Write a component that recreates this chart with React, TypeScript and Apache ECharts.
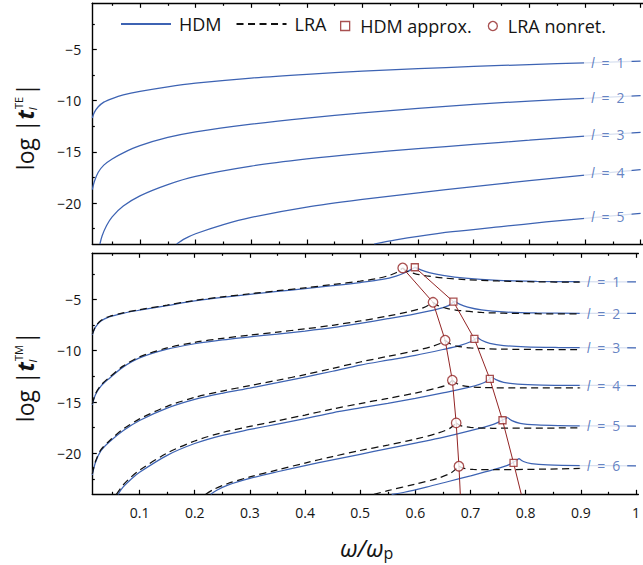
import React, { useEffect, useRef } from 'react';
import * as echarts from 'echarts';

// ---------- axis ticks ----------
const xMajorTicks = [0.1, 0.2, 0.3, 0.4, 0.5, 0.6, 0.7, 0.8, 0.9, 1.0];
const xMinorTicks = [0.05, 0.15, 0.25, 0.35, 0.45, 0.55, 0.65, 0.75, 0.85, 0.95];
const yMajorTicks = [-5, -10, -15, -20];
const yMinorTicks = [-2.5, -7.5, -12.5, -17.5, -22.5];
const modeNumbers = [1, 2, 3, 4, 5, 6];

// ---------- TE panel (HDM) ----------
const teHdm1 = [[0.0143, -11.7], [0.018, -11.15], [0.025, -10.6], [0.035, -10.15], [0.05, -9.8], [0.07, -9.45], [0.1, -9.1], [0.15, -8.65], [0.2, -8.3], [0.3, -7.8], [0.4, -7.43], [0.5, -7.12], [0.6, -6.88], [0.7, -6.67], [0.8, -6.48], [0.9, -6.32], [1.0, -6.15]];
const teHdm2 = [[0.0143, -18.7], [0.018, -17.9], [0.025, -17.0], [0.035, -16.3], [0.05, -15.7], [0.07, -15.1], [0.1, -14.4], [0.15, -13.6], [0.2, -13.05], [0.3, -12.3], [0.4, -11.7], [0.5, -11.2], [0.6, -10.75], [0.7, -10.37], [0.8, -10.05], [0.9, -9.78], [1.0, -9.52]];
const teHdm3 = [[0.028, -24], [0.032, -23.2], [0.04, -22.2], [0.05, -21.35], [0.07, -20.3], [0.1, -19.3], [0.15, -18.2], [0.2, -17.4], [0.3, -16.4], [0.4, -15.7], [0.5, -15.15], [0.6, -14.7], [0.7, -14.27], [0.8, -13.87], [0.9, -13.46], [1.0, -13.1]];
const teHdm4 = [[0.166, -24], [0.18, -23.5], [0.2, -23.0], [0.25, -22.1], [0.3, -21.4], [0.4, -20.4], [0.5, -19.65], [0.6, -19.0], [0.7, -18.4], [0.8, -17.82], [0.9, -17.27], [1.0, -16.75]];
const teHdm5 = [[0.521, -24], [0.56, -23.6], [0.6, -23.25], [0.662, -22.8], [0.75, -22.3], [0.83, -21.85], [0.9, -21.5], [1.0, -21.0]];

// ---------- TM panel (HDM): rise to the resonance, then fall ----------
const tmHdm1Rise = [[0.0143, -8.46], [0.02, -7.7], [0.03, -7.1], [0.045, -6.7], [0.07, -6.35], [0.1, -6.05], [0.15, -5.6], [0.2, -5.15], [0.25, -4.8], [0.3, -4.5], [0.35, -4.22], [0.4, -3.95], [0.45, -3.66], [0.5, -3.35], [0.54, -3.05], [0.565, -2.72], [0.585, -2.3], [0.6, -1.85]];
const tmHdm1Fall = [[0.6, -1.85], [0.61, -2.12], [0.625, -2.38], [0.65, -2.65], [0.69, -2.92], [0.75, -3.13], [0.82, -3.23], [0.9, -3.27], [1.0, -3.29]];
const tmHdm2Rise = [[0.0143, -15.28], [0.02, -14.3], [0.03, -13.45], [0.045, -12.7], [0.07, -11.6], [0.1, -10.7], [0.15, -9.85], [0.2, -9.32], [0.25, -8.95], [0.3, -8.65], [0.35, -8.37], [0.4, -8.08], [0.45, -7.75], [0.5, -7.33], [0.55, -6.88], [0.6, -6.4], [0.64, -5.95], [0.66, -5.6], [0.671, -5.15]];
const tmHdm2Fall = [[0.671, -5.15], [0.68, -5.45], [0.695, -5.75], [0.72, -6.02], [0.76, -6.22], [0.82, -6.32], [0.9, -6.35], [1.0, -6.37]];
const tmHdm3Rise = [[0.0143, -22.1], [0.02, -20.9], [0.03, -19.75], [0.045, -18.9], [0.07, -17.8], [0.1, -16.8], [0.15, -15.6], [0.2, -14.75], [0.25, -14.15], [0.3, -13.65], [0.35, -13.12], [0.4, -12.57], [0.45, -12.0], [0.5, -11.4], [0.55, -10.92], [0.6, -10.45], [0.65, -9.88], [0.68, -9.5], [0.7, -9.12], [0.713, -8.72]];
const tmHdm3Fall = [[0.713, -8.72], [0.72, -8.98], [0.735, -9.28], [0.76, -9.5], [0.8, -9.63], [0.86, -9.69], [0.9, -9.7], [1.0, -9.72]];
const tmHdm4Rise = [[0.061, -24], [0.07, -23.3], [0.085, -22.5], [0.1, -21.85], [0.15, -20.2], [0.2, -19.05], [0.25, -18.25], [0.3, -17.68], [0.35, -17.15], [0.4, -16.62], [0.45, -16.05], [0.5, -15.58], [0.55, -15.13], [0.6, -14.65], [0.65, -14.12], [0.7, -13.53], [0.725, -13.1], [0.739, -12.55]];
const tmHdm4Fall = [[0.739, -12.55], [0.746, -12.82], [0.76, -13.08], [0.785, -13.26], [0.83, -13.35], [0.9, -13.38], [1.0, -13.4]];
const tmHdm5Rise = [[0.229, -24], [0.24, -23.6], [0.26, -23.1], [0.3, -22.45], [0.35, -21.8], [0.4, -21.2], [0.45, -20.65], [0.5, -20.1], [0.55, -19.55], [0.6, -19.0], [0.65, -18.45], [0.7, -17.8], [0.74, -17.2], [0.755, -16.85], [0.767, -16.5]];
const tmHdm5Fall = [[0.767, -16.5], [0.775, -16.82], [0.79, -17.08], [0.82, -17.24], [0.86, -17.31], [0.9, -17.33], [1.0, -17.35]];
const tmHdm6Rise = [[0.557, -24], [0.58, -23.8], [0.62, -23.3], [0.66, -22.75], [0.7, -22.2], [0.74, -21.62], [0.77, -21.1], [0.788, -20.5]];
const tmHdm6Fall = [[0.788, -20.5], [0.796, -20.8], [0.81, -21.0], [0.84, -21.13], [0.9, -21.2], [1.0, -21.22]];

// ---------- TM panel (LRA): rise to the resonance, then fall ----------
const tmLra1Rise = [[0.0143, -8.4], [0.02, -7.65], [0.03, -7.05], [0.045, -6.66], [0.07, -6.31], [0.1, -6.0], [0.15, -5.55], [0.2, -5.1], [0.25, -4.75], [0.3, -4.44], [0.35, -4.15], [0.4, -3.86], [0.45, -3.55], [0.5, -3.22], [0.53, -2.96], [0.55, -2.7], [0.565, -2.4], [0.577, -1.93]];
const tmLra1Fall = [[0.577, -1.93], [0.585, -2.25], [0.6, -2.5], [0.62, -2.7], [0.65, -2.9], [0.69, -3.06], [0.75, -3.2], [0.82, -3.28], [0.9, -3.32]];
const tmLra2Rise = [[0.0143, -15.2], [0.02, -14.2], [0.03, -13.35], [0.045, -12.6], [0.07, -11.5], [0.1, -10.6], [0.15, -9.73], [0.2, -9.18], [0.25, -8.8], [0.3, -8.48], [0.35, -8.18], [0.4, -7.87], [0.45, -7.52], [0.5, -7.1], [0.55, -6.62], [0.59, -6.17], [0.615, -5.8], [0.632, -5.28]];
const tmLra2Fall = [[0.632, -5.28], [0.64, -5.58], [0.655, -5.85], [0.68, -6.08], [0.72, -6.27], [0.8, -6.38], [0.9, -6.42]];
const tmLra3Rise = [[0.0143, -22.0], [0.02, -20.8], [0.03, -19.65], [0.045, -18.8], [0.07, -17.65], [0.1, -16.65], [0.15, -15.42], [0.2, -14.55], [0.25, -13.93], [0.3, -13.4], [0.35, -12.88], [0.4, -12.33], [0.45, -11.72], [0.5, -11.1], [0.55, -10.55], [0.6, -10.0], [0.63, -9.58], [0.645, -9.3], [0.654, -8.98]];
const tmLra3Fall = [[0.654, -8.98], [0.662, -9.3], [0.675, -9.55], [0.7, -9.72], [0.76, -9.85], [0.9, -9.9]];
const tmLra4Rise = [[0.058, -24], [0.07, -23.1], [0.085, -22.3], [0.1, -21.65], [0.15, -19.98], [0.2, -18.8], [0.25, -17.98], [0.3, -17.38], [0.35, -16.83], [0.4, -16.27], [0.45, -15.68], [0.5, -15.15], [0.55, -14.65], [0.6, -14.13], [0.64, -13.62], [0.658, -13.3], [0.667, -12.88]];
const tmLra4Fall = [[0.667, -12.88], [0.675, -13.2], [0.69, -13.45], [0.72, -13.58], [0.8, -13.63], [0.9, -13.62]];
const tmLra5Rise = [[0.22, -24], [0.235, -23.5], [0.26, -22.95], [0.3, -22.3], [0.35, -21.62], [0.4, -20.95], [0.45, -20.32], [0.5, -19.73], [0.55, -19.2], [0.6, -18.62], [0.64, -18.05], [0.663, -17.55], [0.674, -17.04]];
const tmLra5Fall = [[0.674, -17.04], [0.682, -17.3], [0.7, -17.48], [0.74, -17.56], [0.9, -17.52]];
const tmLra6Rise = [[0.525, -24], [0.55, -23.65], [0.6, -23.0], [0.64, -22.45], [0.665, -21.9], [0.679, -21.26]];
const tmLra6Fall = [[0.679, -21.26], [0.687, -21.45], [0.705, -21.58], [0.75, -21.6], [0.9, -21.48]];

// ---------- resonance markers ----------
const hdmApproxPoints = [[0.599, -1.86], [0.669, -5.22], [0.707, -8.85], [0.735, -12.75], [0.758, -16.78], [0.778, -20.94]];
const hdmApproxExit = [0.792, -24];
const lraNonretPoints = [[0.577, -1.93], [0.632, -5.28], [0.654, -8.98], [0.667, -12.88], [0.674, -17.04], [0.679, -21.26]];
const lraNonretExit = [0.6815, -24];

// ---------- style constants ----------
const BLUE = '#3d63b3';
const RED = '#922424';
const INK = '#141414';
const FONT = '"Open Sans", "Noto Sans", "DejaVu Sans", sans-serif';
const X_MIN = 0.0143;
const X_MAX = 1.0043;
const Y_MIN = -24;
const Y_MAX = -0.5;
const LABEL_X = 0.941;
const DASH = [7, 4.5];

const teCurves = [teHdm1, teHdm2, teHdm3, teHdm4, teHdm5];
const tmHdmSegments = [tmHdm1Rise, tmHdm1Fall, tmHdm2Rise, tmHdm2Fall, tmHdm3Rise, tmHdm3Fall, tmHdm4Rise, tmHdm4Fall, tmHdm5Rise, tmHdm5Fall, tmHdm6Rise, tmHdm6Fall];
const tmHdmTails = [tmHdm1Fall, tmHdm2Fall, tmHdm3Fall, tmHdm4Fall, tmHdm5Fall, tmHdm6Fall];
const tmLraSegments = [tmLra1Rise, tmLra1Fall, tmLra2Rise, tmLra2Fall, tmLra3Rise, tmLra3Fall, tmLra4Rise, tmLra4Fall, tmLra5Rise, tmLra5Fall, tmLra6Rise, tmLra6Fall];

function interp(data: number[][], x: number): number {
  for (let i = 1; i < data.length; i++) {
    if (data[i][0] >= x) {
      const [x0, y0] = data[i - 1];
      const [x1, y1] = data[i];
      return y0 + ((y1 - y0) * (x - x0)) / (x1 - x0);
    }
  }
  return data[data.length - 1][1];
}

const frameLine = { show: true, onZero: false, lineStyle: { color: '#000', width: 1.4 } };
const tickLine = { color: '#000', width: 1.2 };

function xAxesFor(gridIndex: number, showLabels: boolean) {
  const base = { type: 'value', gridIndex, min: X_MIN, max: X_MAX, splitLine: { show: false } };
  return [
    {
      ...base, position: 'bottom', axisLine: frameLine,
      axisTick: { show: true, inside: true, length: 4.5, customValues: xMajorTicks, lineStyle: tickLine },
      axisLabel: {
        show: showLabels, customValues: xMajorTicks, margin: 11, fontSize: 14, fontFamily: FONT, color: INK,
        formatter: (v: number) => (Math.abs(v - 1) < 1e-9 ? '1' : v.toFixed(1)),
      },
    },
    {
      ...base, position: 'bottom', axisLine: { show: false, onZero: false },
      axisTick: { show: true, inside: true, length: 2.5, customValues: xMinorTicks, lineStyle: tickLine },
      axisLabel: { show: false },
    },
    {
      ...base, position: 'top', axisLine: frameLine,
      axisTick: { show: true, inside: true, length: 4.5, customValues: xMajorTicks, lineStyle: tickLine },
      axisLabel: { show: false },
    },
    {
      ...base, position: 'top', axisLine: { show: false, onZero: false },
      axisTick: { show: true, inside: true, length: 2.5, customValues: xMinorTicks, lineStyle: tickLine },
      axisLabel: { show: false },
    },
  ];
}

function yName(sup: string) {
  return `{n|log |}{t|t}{sub|l}{sup|${sup}}{n||}{pad| }`;
}

function yAxesFor(gridIndex: number, sup: string) {
  const base = { type: 'value', gridIndex, min: Y_MIN, max: Y_MAX, splitLine: { show: false }, position: 'left' };
  return [
    {
      ...base, axisLine: frameLine,
      name: yName(sup), nameLocation: 'middle', nameRotate: 90, nameGap: 52,
      nameTextStyle: {
        color: INK, fontFamily: FONT, fontSize: 23,
        rich: {
          n: { fontFamily: FONT, fontSize: 23, color: INK, lineHeight: 30 },
          t: { fontFamily: FONT, fontSize: 23, color: INK, fontStyle: 'italic', fontWeight: 'bold', lineHeight: 30, padding: [0, 1, 0, 0] },
          sub: { fontFamily: FONT, fontSize: 11, color: INK, fontStyle: 'italic', width: 0, lineHeight: 12, verticalAlign: 'bottom', padding: [0, 0, 2, 0] },
          sup: { fontFamily: FONT, fontSize: 11, color: INK, lineHeight: 12, verticalAlign: 'top', padding: [3, 1, 0, 0] },
          pad: { fontSize: 23, width: 6, lineHeight: 30 },
        },
      },
      axisTick: { show: true, inside: true, length: 4.5, customValues: yMajorTicks, lineStyle: tickLine },
      axisLabel: {
        show: true, customValues: yMajorTicks, margin: 11, fontSize: 14, fontFamily: FONT, color: INK,
        formatter: (v: number) => '\u2212' + Math.abs(v),
      },
    },
    {
      ...base, axisLine: { show: false, onZero: false },
      axisTick: { show: true, inside: true, length: 2.5, customValues: yMinorTicks, lineStyle: tickLine },
      axisLabel: { show: false },
    },
  ];
}

function lineSeries(name: string, data: number[][], xIdx: number, yIdx: number, color: string, dashed: boolean, z: number) {
  return {
    type: 'line', name, data, xAxisIndex: xIdx, yAxisIndex: yIdx,
    symbol: 'none', showSymbol: false, smooth: 0.3, silent: true, z,
    lineStyle: { color, width: 1.25, type: dashed ? DASH : 'solid' },
    itemStyle: { color },
  };
}

function labelSeries(curves: number[][][], xIdx: number, yIdx: number) {
  return {
    type: 'scatter', name: 'modeLabels', xAxisIndex: xIdx, yAxisIndex: yIdx,
    symbolSize: 1, itemStyle: { color: 'rgba(0,0,0,0)' }, silent: true, z: 8,
    data: curves.map((c, i) => [LABEL_X, interp(c, LABEL_X), modeNumbers[i]]),
    label: {
      show: true, position: 'inside', color: BLUE, fontSize: 14, fontFamily: FONT,
      backgroundColor: '#ffffff', padding: [2, 7],
      formatter: (p: any) => `{i|l}\u2002=\u2002${p.value[2]}`,
      rich: { i: { fontStyle: 'italic', fontSize: 14, fontFamily: FONT, color: BLUE } },
    },
  };
}

export default function App() {
  const ref = useRef<HTMLDivElement>(null);
  useEffect(() => {
    if (!ref.current) return;
    const chart = echarts.init(ref.current, null, { renderer: 'svg' });

    const series: any[] = [];
    teCurves.forEach((c) => series.push(lineSeries('HDM', c, 0, 0, BLUE, false, 2)));
    tmHdmSegments.forEach((c) => series.push(lineSeries('HDM', c, 4, 2, BLUE, false, 2)));
    tmLraSegments.forEach((c) => series.push(lineSeries('LRA', c, 4, 2, '#111111', true, 3)));
    series.push({
      type: 'line', name: 'hdmTrack', xAxisIndex: 4, yAxisIndex: 2, data: [...hdmApproxPoints, hdmApproxExit],
      symbol: 'none', silent: true, z: 4, lineStyle: { color: RED, width: 1 },
    });
    series.push({
      type: 'line', name: 'lraTrack', xAxisIndex: 4, yAxisIndex: 2, data: [...lraNonretPoints, lraNonretExit],
      symbol: 'none', silent: true, z: 4, lineStyle: { color: RED, width: 1 },
    });
    series.push({
      type: 'scatter', name: 'HDM approx.', xAxisIndex: 4, yAxisIndex: 2, data: hdmApproxPoints,
      symbol: 'rect', symbolSize: 7, silent: true, z: 5,
      itemStyle: { color: '#ffffff', borderColor: RED, borderWidth: 1.3 },
    });
    series.push({
      type: 'scatter', name: 'LRA nonret.', xAxisIndex: 4, yAxisIndex: 2, data: lraNonretPoints,
      symbol: 'circle', symbolSize: 9.5, silent: true, z: 5,
      itemStyle: { color: '#ffffff', borderColor: RED, borderWidth: 1.3 },
    });
    series.push(labelSeries(teCurves, 0, 0));
    series.push(labelSeries(tmHdmTails, 4, 2));

    chart.setOption({
      animation: false,
      grid: [
        { left: 92.3, top: 3.3, right: -1, height: 240.7 },
        { left: 92.3, top: 253.3, right: -1, height: 241 },
      ],
      xAxis: [...xAxesFor(0, false), ...xAxesFor(1, true)],
      yAxis: [...yAxesFor(0, 'TE'), ...yAxesFor(1, 'TM')],
      legend: [
        {
          data: [
            { name: 'HDM', itemStyle: { opacity: 0 } },
            { name: 'LRA', itemStyle: { opacity: 0 } },
          ],
          left: 115, top: 10, itemWidth: 50, itemHeight: 14, itemGap: 14,
          selectedMode: false, textStyle: { fontSize: 18, fontFamily: FONT, color: INK, padding: [0, 0, 0, 3] },
        },
        {
          data: [
            { name: 'HDM approx.', icon: 'path://M0 0H10V10H0Z', itemStyle: { color: '#ffffff', borderColor: RED, borderWidth: 1.3 } },
            { name: 'LRA nonret.', icon: 'circle', itemStyle: { color: '#ffffff', borderColor: RED, borderWidth: 1.3 } },
          ],
          left: 335, top: 12, itemWidth: 20, itemHeight: 9, itemGap: 16,
          selectedMode: false, textStyle: { fontSize: 18, fontFamily: FONT, color: INK },
        },
      ],
      graphic: [
        {
          type: 'text', x: 340, y: 547, silent: true,
          style: {
            text: '{a|ω/ω}{b|p}', align: 'left', verticalAlign: 'middle',
            rich: {
              a: { fontFamily: FONT, fontSize: 24, fontStyle: 'italic', fill: INK, color: INK },
              b: { fontFamily: FONT, fontSize: 16, fill: INK, color: INK, padding: [12, 0, 0, 0] },
            },
          },
        },
      ],
      series,
    });
    return () => chart.dispose();
  }, []);
  return <div ref={ref} style={{ position: 'fixed', left: 0, top: 0, width: 643, height: 565, background: '#fff' }} />;
}
